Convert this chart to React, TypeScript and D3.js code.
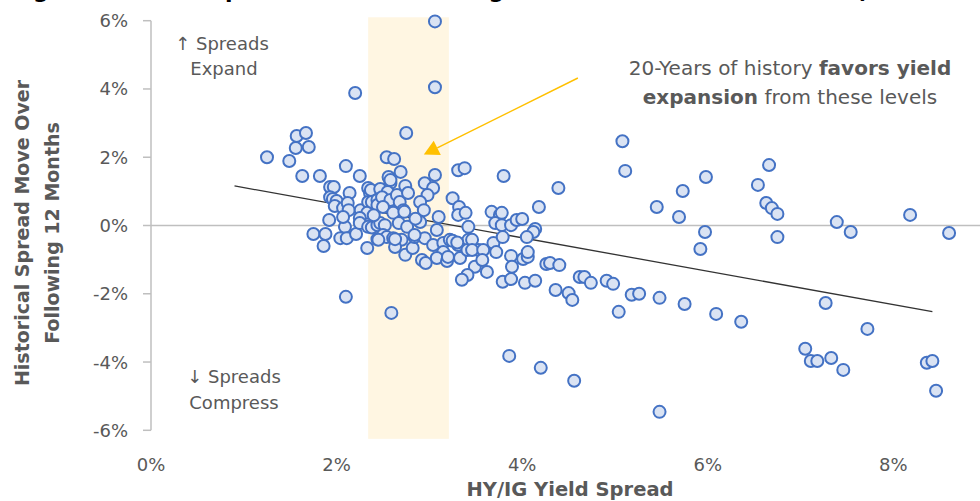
import React from "react";
import * as d3 from "d3";

// [HY/IG yield spread %, spread move over following 12 months %]
const points: [number, number][] = [
  [1.25, 2.0], [1.49, 1.89], [1.57, 2.62], [1.67, 2.71], [1.56, 2.27], [1.7, 2.3], [1.63, 1.45], [1.82, 1.45],
  [2.1, 1.74], [2.25, 1.45], [2.2, 3.88], [3.06, 4.05], [2.75, 2.71], [3.06, 5.98],
  [1.93, 1.13], [1.97, 1.13], [1.93, 0.83], [1.96, 0.78], [2.0, 0.72], [1.98, 0.57], [2.07, 0.51], [2.14, 0.95],
  [2.12, 0.66], [2.13, 0.45], [2.26, 0.45], [2.34, 1.1], [2.36, 0.95], [2.37, 1.04], [2.34, 0.69], [2.33, 0.37],
  [2.25, 0.22], [1.92, 0.16], [1.75, -0.25], [1.88, -0.25], [1.86, -0.6], [2.09, -0.04], [2.07, 0.25],
  [2.04, -0.37], [2.11, -0.37], [2.21, -0.25], [2.25, 0.07], [2.34, -0.04], [2.33, -0.66], [2.44, -0.4], [2.1, -2.09],
  [2.54, 2.0], [2.62, 1.95], [2.69, 1.57], [2.56, 1.42], [2.58, 1.24], [2.58, 1.33], [2.47, 1.07], [2.38, 0.69],
  [2.44, 0.75], [2.44, 0.6], [2.55, 0.98], [2.49, 0.83], [2.58, 0.75], [2.65, 0.89], [2.68, 0.69], [2.74, 1.16],
  [2.77, 0.95], [2.72, 0.45], [2.5, 0.54], [2.61, 0.37], [2.38, -0.06], [2.44, 0.01], [2.47, 0.07], [2.52, 0.01],
  [2.67, 0.07], [2.76, -0.04], [2.5, -0.28], [2.54, -0.34], [2.45, -0.42], [2.61, -0.37], [2.7, -0.42], [2.63, -0.63],
  [2.74, -0.86], [2.82, -0.66], [2.84, -0.34], [2.95, 1.24], [3.06, 1.48], [3.04, 1.1], [2.98, 0.89], [2.9, 0.69],
  [2.94, 0.45], [3.1, 0.25], [3.08, -0.13], [2.95, -0.37], [3.04, -0.57], [3.15, -0.51], [3.22, -0.42], [3.31, -0.57],
  [3.15, -0.78], [3.08, -0.95], [3.19, -1.04], [3.2, -0.92], [3.33, -0.95], [2.92, -1.01], [2.96, -1.1], [2.59, -2.56],
  [3.31, 1.62], [3.38, 1.68], [3.25, 0.8], [3.32, 0.54], [3.31, 0.31], [3.39, 0.37], [3.42, -0.04], [3.42, -0.42],
  [3.41, -0.72], [3.49, -1.21], [3.41, -1.45], [3.35, -1.59], [3.62, -1.36],
  [2.84, -0.28], [2.73, 0.4], [2.63, -0.4], [3.25, -0.45], [3.3, -0.5], [2.4, 0.3], [2.9, 0.1], [2.85, 0.2],
  [3.67, 0.4], [3.76, 0.31], [3.71, 0.07], [3.69, -0.51], [3.53, -0.72], [3.8, 1.45], [4.39, 1.1], [4.18, 0.54],
  [3.78, 0.37], [3.78, 0.01], [3.88, 0.01], [3.94, 0.16], [4.0, 0.19], [4.14, -0.1], [4.12, -0.19], [3.46, -0.42],
  [3.46, -0.72], [3.58, -0.72], [3.72, -0.78], [3.79, -0.34], [4.05, -0.34], [3.57, -1.01],
  [3.88, -0.89], [3.89, -1.21], [4.01, -0.98], [4.06, -0.92], [4.06, -0.78],
  [3.79, -1.65], [3.88, -1.57], [4.03, -1.68], [4.14, -1.62], [4.26, -1.13], [4.3, -1.1], [4.4, -1.16],
  [4.36, -1.89], [4.5, -1.98], [4.54, -2.18], [4.62, -1.51], [4.67, -1.51], [4.74, -1.68], [4.91, -1.62], [4.98, -1.71],
  [5.04, -2.53], [5.18, -2.03], [5.26, -2.0],
  [5.08, 2.47], [5.11, 1.6], [5.45, 0.54], [5.73, 1.01], [5.98, 1.42], [5.69, 0.25], [5.97, -0.19], [5.92, -0.69],
  [6.54, 1.19], [6.66, 1.77], [6.63, 0.66], [6.69, 0.51], [6.75, 0.34], [6.75, -0.34],
  [7.39, 0.1], [7.54, -0.19], [8.18, 0.31], [8.6, -0.22],
  [7.27, -2.27], [7.72, -3.03], [7.05, -3.61], [7.11, -3.97], [7.18, -3.97], [7.33, -3.88], [7.46, -4.23],
  [8.36, -4.02], [8.42, -3.97], [8.46, -4.84],
  [3.86, -3.82], [4.2, -4.17], [4.56, -4.55], [5.48, -5.46],
  [5.48, -2.12], [5.75, -2.3], [6.09, -2.59], [6.36, -2.82],
];

const yTicks = [-6, -4, -2, 0, 2, 4, 6];
const xTicks = [0, 2, 4, 6, 8];
const trendX = [0.9, 8.42];
const trendIntercept = 1.6;
const trendSlope = -0.49;
const bandX = [2.34, 3.21];
const bandY = [-6.25, 6.1];
const arrowFrom: [number, number] = [4.6, 4.32];
const arrowTo: [number, number] = [2.94, 2.08];

const FONT = "'DejaVu Sans', sans-serif";
const GRAY = "#595959";

export default function App() {
  const W = 980, H = 501;
  const x = d3.scaleLinear().domain([0, 10]).range([151, 1079]);
  const y = d3.scaleLinear().domain([-6, 6]).range([430.3, 20.7]);

  const trend = d3.line<number>().x((d) => x(d)).y((d) => y(trendIntercept + trendSlope * d));

  const sx = x(arrowFrom[0]), sy = y(arrowFrom[1]);
  const tx = x(arrowTo[0]), ty = y(arrowTo[1]);
  const dx = tx - sx, dy = ty - sy;
  const len = Math.hypot(dx, dy);
  const ux = dx / len, uy = dy / len;
  const headL = 15, headW = 8;
  const bx = tx - ux * headL, by = ty - uy * headL;
  const head = `M${tx},${ty} L${bx - uy * headW},${by + ux * headW} L${bx + uy * headW},${by - ux * headW} Z`;

  return (
    <svg width={W} height={H} style={{ position: "absolute", left: 0, top: 0, display: "block" }} fontFamily={FONT}>
      <rect width={W} height={H} fill="#fff" />
      <text x={10} y={-2.5} fontSize={22} fontWeight="bold" fill="#000" textLength={1000} lengthAdjust="spacing">
        Figure 6: HY/IG Spread Level vs. Change Over The Next 12 Months (2004-2024)
      </text>
      <rect x={x(bandX[0])} y={y(bandY[1])} width={x(bandX[1]) - x(bandX[0])} height={y(bandY[0]) - y(bandY[1])} fill="#FFF6E2" />
      <line x1={151} x2={151} y1={y(6)} y2={y(-6)} stroke="#BFBFBF" strokeWidth={1.5} />
      {yTicks.map((t) => (
        <g key={t}>
          <line x1={143} x2={151} y1={y(t)} y2={y(t)} stroke="#BFBFBF" strokeWidth={1.5} />
          <text x={128} y={y(t)} textAnchor="end" dominantBaseline="central" fontSize={18} fill={GRAY}>
            {t}%
          </text>
        </g>
      ))}
      <line x1={151} x2={W} y1={y(0)} y2={y(0)} stroke="#BFBFBF" strokeWidth={1.5} />
      {xTicks.map((t) => (
        <text key={t} x={x(t)} y={464} textAnchor="middle" dominantBaseline="central" fontSize={18} fill={GRAY}>
          {t}%
        </text>
      ))}
      <text x={570} y={489} textAnchor="middle" dominantBaseline="central" fontSize={19.5} fontWeight="bold" fill={GRAY}>
        HY/IG Yield Spread
      </text>
      <g transform="translate(0,233) rotate(-90)" fontSize={19} fontWeight="bold" fill={GRAY} textAnchor="middle">
        <text x={0} y={22} dominantBaseline="central">Historical Spread Move Over</text>
        <text x={0} y={52} dominantBaseline="central">Following 12 Months</text>
      </g>
      <path d={trend(trendX) || ""} stroke="#333" strokeWidth={1.3} fill="none" />
      {points.map((p, i) => (
        <circle key={i} cx={x(p[0])} cy={y(p[1])} r={6} fill="#DAE3F3" stroke="#4472C4" strokeWidth={2} />
      ))}
      <line x1={sx} y1={sy} x2={bx} y2={by} stroke="#FFC000" strokeWidth={1.5} />
      <path d={head} fill="#FFC000" />
      <g fontSize={18} fill={GRAY} textAnchor="middle">
        <text x={222} y={43} dominantBaseline="central">↑ Spreads</text>
        <text x={224} y={68} dominantBaseline="central">Expand</text>
        <text x={234} y={376} dominantBaseline="central">↓ Spreads</text>
        <text x={234} y={402} dominantBaseline="central">Compress</text>
      </g>
      <g fontSize={20} fill={GRAY} textAnchor="middle">
        <text x={790} y={68} dominantBaseline="central">
          20-Years of history <tspan fontWeight="bold">favors yield</tspan>
        </text>
        <text x={790} y={97} dominantBaseline="central">
          <tspan fontWeight="bold">expansion</tspan> from these levels
        </text>
      </g>
    </svg>
  );
}
